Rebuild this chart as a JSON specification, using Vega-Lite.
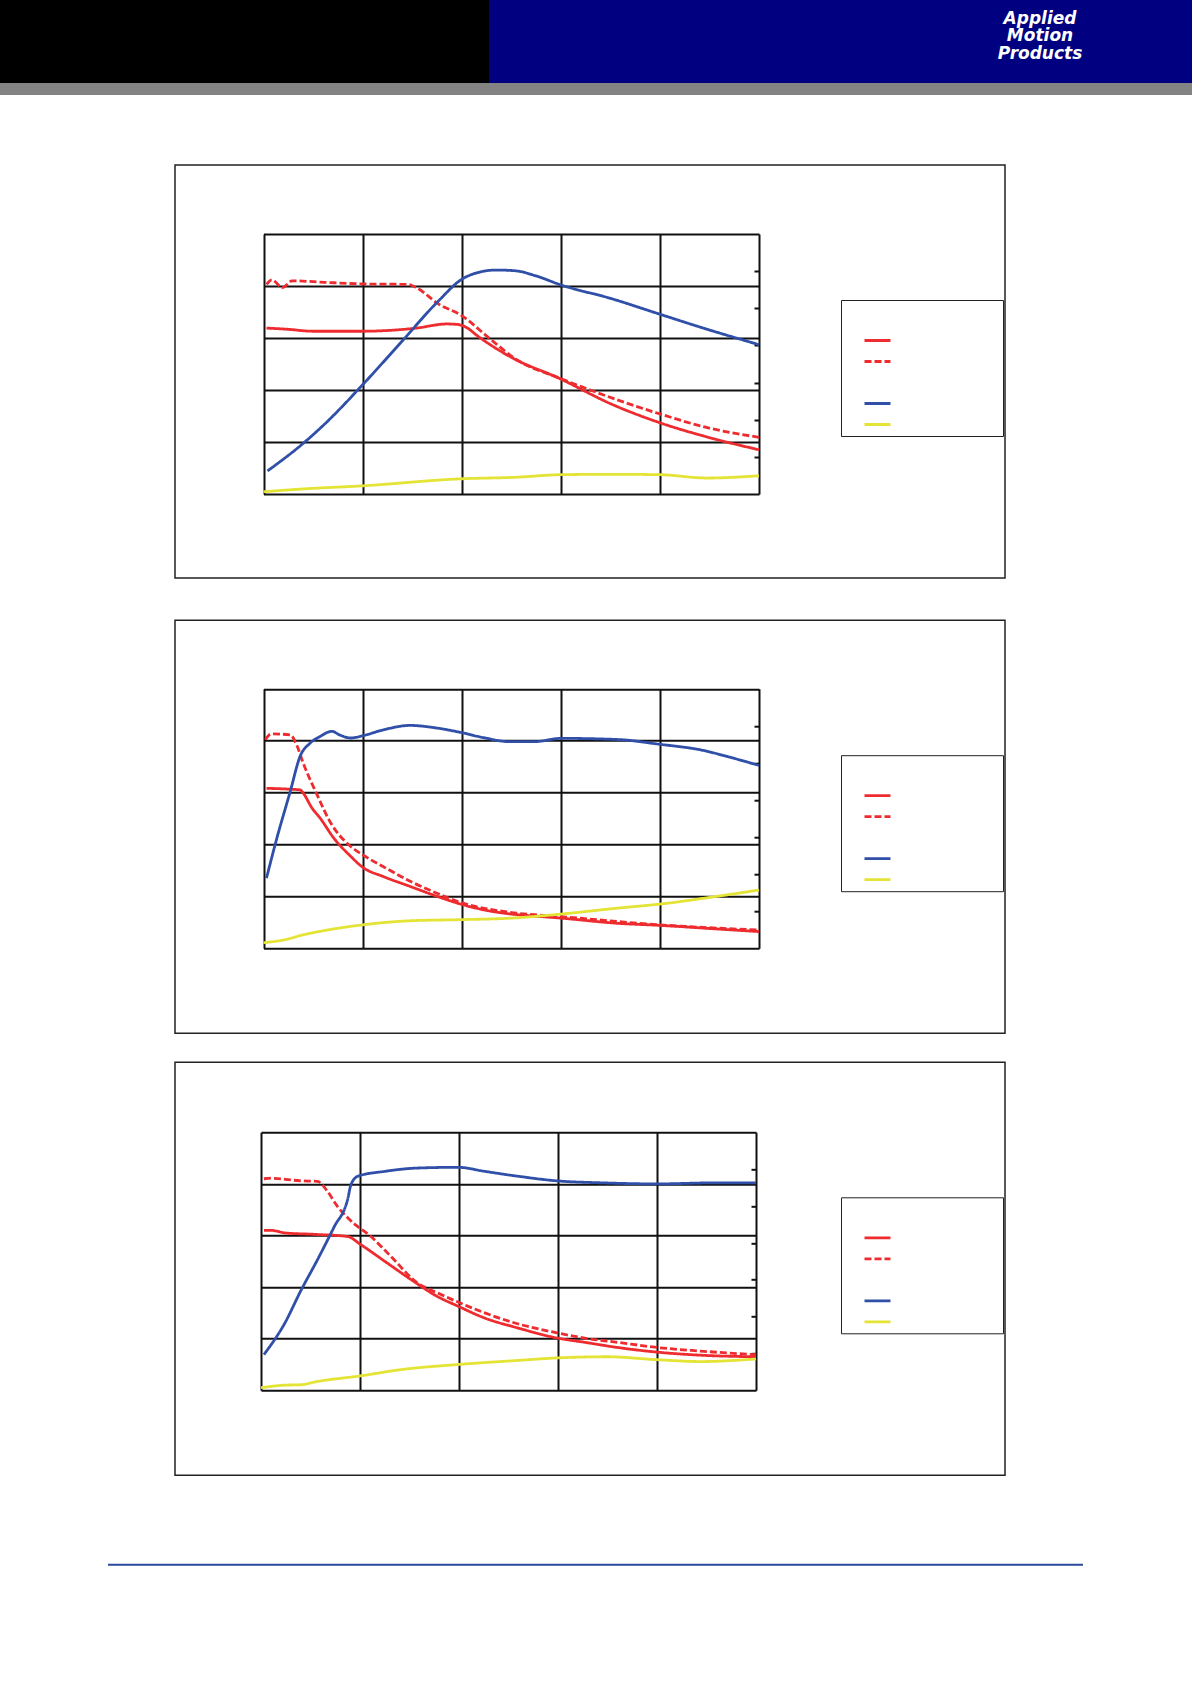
{
  "$schema": "https://vega.github.io/schema/vega-lite/v6.json",
  "padding": 0,
  "background": "white",
  "datasets": {
    "p1": [
      {"series": "Torque 24 VDC", "speed": 0.3, "value": 0.319}, {"series": "Torque 24 VDC", "speed": 2.3, "value": 0.317},
      {"series": "Torque 24 VDC", "speed": 5, "value": 0.313}, {"series": "Torque 24 VDC", "speed": 10, "value": 0.313},
      {"series": "Torque 24 VDC", "speed": 15.4, "value": 0.319}, {"series": "Torque 24 VDC", "speed": 18.5, "value": 0.327},
      {"series": "Torque 24 VDC", "speed": 19.6, "value": 0.326}, {"series": "Torque 24 VDC", "speed": 20.5, "value": 0.32},
      {"series": "Torque 24 VDC", "speed": 21.6, "value": 0.304}, {"series": "Torque 24 VDC", "speed": 24.7, "value": 0.266},
      {"series": "Torque 24 VDC", "speed": 30, "value": 0.221}, {"series": "Torque 24 VDC", "speed": 35.1, "value": 0.173},
      {"series": "Torque 24 VDC", "speed": 40, "value": 0.137}, {"series": "Torque 24 VDC", "speed": 44.7, "value": 0.11},
      {"series": "Torque 24 VDC", "speed": 50, "value": 0.085},
      {"series": "Torque 48 VDC", "speed": 0.3, "value": 0.403}, {"series": "Torque 48 VDC", "speed": 0.85, "value": 0.412},
      {"series": "Torque 48 VDC", "speed": 1.9, "value": 0.397}, {"series": "Torque 48 VDC", "speed": 2.9, "value": 0.41},
      {"series": "Torque 48 VDC", "speed": 6.2, "value": 0.407}, {"series": "Torque 48 VDC", "speed": 10, "value": 0.404},
      {"series": "Torque 48 VDC", "speed": 14.6, "value": 0.403}, {"series": "Torque 48 VDC", "speed": 15.4, "value": 0.397},
      {"series": "Torque 48 VDC", "speed": 17.7, "value": 0.365}, {"series": "Torque 48 VDC", "speed": 20, "value": 0.343},
      {"series": "Torque 48 VDC", "speed": 22.7, "value": 0.301}, {"series": "Torque 48 VDC", "speed": 25.4, "value": 0.26},
      {"series": "Torque 48 VDC", "speed": 30, "value": 0.222}, {"series": "Torque 48 VDC", "speed": 33.1, "value": 0.199},
      {"series": "Torque 48 VDC", "speed": 40, "value": 0.154}, {"series": "Torque 48 VDC", "speed": 44.7, "value": 0.128},
      {"series": "Torque 48 VDC", "speed": 50, "value": 0.109},
      {"series": "Power", "speed": 0.4, "value": 6.2}, {"series": "Power", "speed": 3.9, "value": 13.4},
      {"series": "Power", "speed": 6.2, "value": 18.9}, {"series": "Power", "speed": 10, "value": 29.4},
      {"series": "Power", "speed": 13.9, "value": 40.9}, {"series": "Power", "speed": 17.7, "value": 52.1},
      {"series": "Power", "speed": 20, "value": 57.8}, {"series": "Power", "speed": 21.6, "value": 59.6},
      {"series": "Power", "speed": 23.5, "value": 60.3}, {"series": "Power", "speed": 25.4, "value": 60.1},
      {"series": "Power", "speed": 27.4, "value": 58.8}, {"series": "Power", "speed": 30, "value": 56.3},
      {"series": "Power", "speed": 35.1, "value": 52.6}, {"series": "Power", "speed": 40, "value": 48.4},
      {"series": "Power", "speed": 44.7, "value": 44.4}, {"series": "Power", "speed": 50, "value": 40.2},
      {"series": "Current", "speed": 0, "value": 0.6}, {"series": "Current", "speed": 4.2, "value": 1.4},
      {"series": "Current", "speed": 10, "value": 2.2}, {"series": "Current", "speed": 20, "value": 4.1},
      {"series": "Current", "speed": 25.4, "value": 4.5}, {"series": "Current", "speed": 30, "value": 5.2},
      {"series": "Current", "speed": 35.1, "value": 5.3}, {"series": "Current", "speed": 40, "value": 5.2},
      {"series": "Current", "speed": 44.7, "value": 4.3}, {"series": "Current", "speed": 50, "value": 4.9}
    ],
    "p2": [
      {"series": "Torque 24 VDC", "speed": 0.3, "value": 0.308}, {"series": "Torque 24 VDC", "speed": 2, "value": 0.307},
      {"series": "Torque 24 VDC", "speed": 3.7, "value": 0.305}, {"series": "Torque 24 VDC", "speed": 4, "value": 0.299},
      {"series": "Torque 24 VDC", "speed": 4.9, "value": 0.27}, {"series": "Torque 24 VDC", "speed": 5.7, "value": 0.251},
      {"series": "Torque 24 VDC", "speed": 7.1, "value": 0.212}, {"series": "Torque 24 VDC", "speed": 8.8, "value": 0.177},
      {"series": "Torque 24 VDC", "speed": 10, "value": 0.156}, {"series": "Torque 24 VDC", "speed": 12.1, "value": 0.138},
      {"series": "Torque 24 VDC", "speed": 14.8, "value": 0.119}, {"series": "Torque 24 VDC", "speed": 17.5, "value": 0.1},
      {"series": "Torque 24 VDC", "speed": 19.9, "value": 0.085}, {"series": "Torque 24 VDC", "speed": 22.2, "value": 0.074},
      {"series": "Torque 24 VDC", "speed": 24.9, "value": 0.066}, {"series": "Torque 24 VDC", "speed": 27.3, "value": 0.062},
      {"series": "Torque 24 VDC", "speed": 30, "value": 0.058}, {"series": "Torque 24 VDC", "speed": 35.7, "value": 0.048},
      {"series": "Torque 24 VDC", "speed": 40, "value": 0.044}, {"series": "Torque 24 VDC", "speed": 45.8, "value": 0.037},
      {"series": "Torque 24 VDC", "speed": 50, "value": 0.032},
      {"series": "Torque 48 VDC", "speed": 0.2, "value": 0.402}, {"series": "Torque 48 VDC", "speed": 0.8, "value": 0.413},
      {"series": "Torque 48 VDC", "speed": 2.7, "value": 0.411}, {"series": "Torque 48 VDC", "speed": 3.4, "value": 0.389},
      {"series": "Torque 48 VDC", "speed": 4, "value": 0.357}, {"series": "Torque 48 VDC", "speed": 5.4, "value": 0.296},
      {"series": "Torque 48 VDC", "speed": 6.7, "value": 0.244}, {"series": "Torque 48 VDC", "speed": 8.8, "value": 0.196},
      {"series": "Torque 48 VDC", "speed": 10, "value": 0.18}, {"series": "Torque 48 VDC", "speed": 12.1, "value": 0.157},
      {"series": "Torque 48 VDC", "speed": 14.8, "value": 0.129}, {"series": "Torque 48 VDC", "speed": 17.5, "value": 0.106},
      {"series": "Torque 48 VDC", "speed": 19.9, "value": 0.088}, {"series": "Torque 48 VDC", "speed": 24.9, "value": 0.069},
      {"series": "Torque 48 VDC", "speed": 30, "value": 0.061}, {"series": "Torque 48 VDC", "speed": 40, "value": 0.045},
      {"series": "Torque 48 VDC", "speed": 50, "value": 0.035},
      {"series": "Power", "speed": 0.3, "value": 18.9}, {"series": "Power", "speed": 1.35, "value": 29.7},
      {"series": "Power", "speed": 2.7, "value": 42.3}, {"series": "Power", "speed": 3.7, "value": 51.8},
      {"series": "Power", "speed": 4.7, "value": 55.3}, {"series": "Power", "speed": 5.7, "value": 57.1},
      {"series": "Power", "speed": 6.9, "value": 58.5}, {"series": "Power", "speed": 7.7, "value": 57.5},
      {"series": "Power", "speed": 8.8, "value": 56.7}, {"series": "Power", "speed": 10, "value": 57.3},
      {"series": "Power", "speed": 12.1, "value": 58.9}, {"series": "Power", "speed": 14.8, "value": 60.1},
      {"series": "Power", "speed": 17.2, "value": 59.5}, {"series": "Power", "speed": 19.9, "value": 58.2},
      {"series": "Power", "speed": 22.2, "value": 56.8}, {"series": "Power", "speed": 24.9, "value": 55.7},
      {"series": "Power", "speed": 27.3, "value": 55.7}, {"series": "Power", "speed": 30, "value": 56.6},
      {"series": "Power", "speed": 35.7, "value": 56.3}, {"series": "Power", "speed": 40, "value": 55},
      {"series": "Power", "speed": 44.1, "value": 53.5}, {"series": "Power", "speed": 47.5, "value": 51.2},
      {"series": "Power", "speed": 50, "value": 49.3},
      {"series": "Current", "speed": 0, "value": 1.5}, {"series": "Current", "speed": 2, "value": 2.2},
      {"series": "Current", "speed": 4, "value": 3.6}, {"series": "Current", "speed": 7.1, "value": 5.2},
      {"series": "Current", "speed": 10, "value": 6.3}, {"series": "Current", "speed": 14.8, "value": 7.4},
      {"series": "Current", "speed": 19.9, "value": 7.7}, {"series": "Current", "speed": 24.9, "value": 8.1},
      {"series": "Current", "speed": 30, "value": 9.2}, {"series": "Current", "speed": 35.7, "value": 10.8},
      {"series": "Current", "speed": 40, "value": 11.9}, {"series": "Current", "speed": 45.8, "value": 14},
      {"series": "Current", "speed": 50, "value": 15.7}
    ],
    "p3": [
      {"series": "Torque 24 VDC", "speed": 0.3, "value": 0.31}, {"series": "Torque 24 VDC", "speed": 1, "value": 0.31},
      {"series": "Torque 24 VDC", "speed": 2.4, "value": 0.305}, {"series": "Torque 24 VDC", "speed": 5.7, "value": 0.302},
      {"series": "Torque 24 VDC", "speed": 8.75, "value": 0.298}, {"series": "Torque 24 VDC", "speed": 10.1, "value": 0.282},
      {"series": "Torque 24 VDC", "speed": 12.5, "value": 0.25}, {"series": "Torque 24 VDC", "speed": 15.2, "value": 0.214},
      {"series": "Torque 24 VDC", "speed": 17.8, "value": 0.182}, {"series": "Torque 24 VDC", "speed": 19.9, "value": 0.163},
      {"series": "Torque 24 VDC", "speed": 22.6, "value": 0.14}, {"series": "Torque 24 VDC", "speed": 25.9, "value": 0.121},
      {"series": "Torque 24 VDC", "speed": 30, "value": 0.101}, {"series": "Torque 24 VDC", "speed": 32.7, "value": 0.093},
      {"series": "Torque 24 VDC", "speed": 36, "value": 0.083}, {"series": "Torque 24 VDC", "speed": 40, "value": 0.074},
      {"series": "Torque 24 VDC", "speed": 44.4, "value": 0.068}, {"series": "Torque 24 VDC", "speed": 50, "value": 0.065},
      {"series": "Torque 48 VDC", "speed": 0.3, "value": 0.41}, {"series": "Torque 48 VDC", "speed": 1, "value": 0.411},
      {"series": "Torque 48 VDC", "speed": 4, "value": 0.406}, {"series": "Torque 48 VDC", "speed": 5.7, "value": 0.405},
      {"series": "Torque 48 VDC", "speed": 6.7, "value": 0.386}, {"series": "Torque 48 VDC", "speed": 7.7, "value": 0.357},
      {"series": "Torque 48 VDC", "speed": 9.1, "value": 0.328}, {"series": "Torque 48 VDC", "speed": 11.1, "value": 0.298},
      {"series": "Torque 48 VDC", "speed": 13.1, "value": 0.26}, {"series": "Torque 48 VDC", "speed": 15.8, "value": 0.208},
      {"series": "Torque 48 VDC", "speed": 17.8, "value": 0.189}, {"series": "Torque 48 VDC", "speed": 19.9, "value": 0.171},
      {"series": "Torque 48 VDC", "speed": 22.6, "value": 0.15}, {"series": "Torque 48 VDC", "speed": 25.9, "value": 0.129},
      {"series": "Torque 48 VDC", "speed": 30, "value": 0.111}, {"series": "Torque 48 VDC", "speed": 32.7, "value": 0.101},
      {"series": "Torque 48 VDC", "speed": 36, "value": 0.093}, {"series": "Torque 48 VDC", "speed": 40, "value": 0.083},
      {"series": "Torque 48 VDC", "speed": 44.4, "value": 0.076}, {"series": "Torque 48 VDC", "speed": 50, "value": 0.069},
      {"series": "Power", "speed": 0.3, "value": 9.7}, {"series": "Power", "speed": 2.4, "value": 18.2},
      {"series": "Power", "speed": 4, "value": 26.9}, {"series": "Power", "speed": 5.7, "value": 35.4},
      {"series": "Power", "speed": 7.4, "value": 44.4}, {"series": "Power", "speed": 8.75, "value": 51.8},
      {"series": "Power", "speed": 9.1, "value": 55.9}, {"series": "Power", "speed": 9.8, "value": 58.1},
      {"series": "Power", "speed": 12.5, "value": 59.4}, {"series": "Power", "speed": 15.8, "value": 60.3},
      {"series": "Power", "speed": 19.9, "value": 60.5}, {"series": "Power", "speed": 22.6, "value": 59.4},
      {"series": "Power", "speed": 25.9, "value": 58.1}, {"series": "Power", "speed": 30, "value": 56.8},
      {"series": "Power", "speed": 34.3, "value": 56.3}, {"series": "Power", "speed": 40, "value": 56},
      {"series": "Power", "speed": 46.1, "value": 56.3}, {"series": "Power", "speed": 50, "value": 56.3},
      {"series": "Current", "speed": 0, "value": 0.7}, {"series": "Current", "speed": 2.4, "value": 1.4},
      {"series": "Current", "speed": 4, "value": 1.5}, {"series": "Current", "speed": 5.7, "value": 2.4},
      {"series": "Current", "speed": 10, "value": 3.9}, {"series": "Current", "speed": 14.1, "value": 5.6},
      {"series": "Current", "speed": 19.9, "value": 7}, {"series": "Current", "speed": 25.9, "value": 8.1},
      {"series": "Current", "speed": 30, "value": 8.8}, {"series": "Current", "speed": 35, "value": 9.1},
      {"series": "Current", "speed": 40, "value": 8.3}, {"series": "Current", "speed": 44.4, "value": 7.8},
      {"series": "Current", "speed": 50, "value": 8.5}
    ]
  },
  "vconcat": [
    {
      "vconcat": [
        {
          "vconcat": [
            {
              "vconcat": [
                {
                  "vconcat": [
                    {
                      "hconcat": [
                        {"width": 489, "height": 83, "data": {"values": []}, "mark": "point", "view": {"fill": "#000000", "stroke": null}},
                        {"width": 501, "height": 83, "data": {"values": []}, "mark": "point", "view": {"fill": "#000080", "stroke": null}},
                        {
                          "width": 100, "height": 83,
                          "data": {"values": [{"brand": "Applied Motion Products"}]},
                          "mark": {"type": "text", "color": "white", "font": "DejaVu Sans", "fontSize": 17, "fontWeight": "bold", "fontStyle": "italic", "align": "center", "baseline": "middle", "lineHeight": 17.7, "dy": -23},
                          "encoding": {"text": {"value": ["Applied", "Motion", "Products"]}},
                          "view": {"fill": "#000080", "stroke": null}
                        },
                        {"width": 102, "height": 83, "data": {"values": []}, "mark": "point", "view": {"fill": "#000080", "stroke": null}}
                      ],
                      "spacing": 0
                    },
                    {"width": 1192, "height": 12, "data": {"values": []}, "mark": "point", "view": {"fill": "#838383", "stroke": null}}
                  ],
                  "spacing": 0
                },
                {
                  "hconcat": [
                    {"width": 174, "height": 1, "data": {"values": []}, "mark": "point"},
                    {
                      "width": 830, "height": 413,
                      "view": {"stroke": "#222222", "strokeWidth": 1.5, "fill": "white"},
                      "data": {"name": "p1"},
                      "layer": [
                        {
                          "transform": [{"filter": {"field": "series", "oneOf": ["Torque 24 VDC", "Torque 48 VDC"]}}],
                          "mark": "line",
                          "encoding": {
                            "x": {"field": "speed", "type": "quantitative", "scale": {"domain": [0, 50], "range": [88.5, 584], "nice": false}, "axis": {"orient": "top", "grid": true, "values": [0, 10, 20, 30, 40, 50], "title": null}},
                            "y": {"field": "value", "type": "quantitative", "scale": {"domain": [0, 0.5], "range": [329, 69], "nice": false}, "axis": {"grid": true, "values": [0, 0.1, 0.2, 0.3, 0.4, 0.5], "title": null}},
                            "color": {"field": "series", "type": "nominal", "scale": {"domain": [" ", "Torque 24 VDC", "Torque 48 VDC", "  ", "Power", "Current"], "range": ["white", "#ee2b2f", "#ee2b2f", "white", "#2f4fa8", "#e4e436"]}, "legend": {"title": null, "orient": "none", "legendX": 666, "legendY": 135, "labelExpr": "''", "encode": {"symbols": {"update": {"strokeDash": {"signal": "datum.value === 'Torque 48 VDC' ? [4, 1.6] : [1, 0]"}}}}}},
                            "strokeDash": {"field": "series", "type": "nominal", "scale": {"domain": [" ", "Torque 24 VDC", "Torque 48 VDC", "  ", "Power", "Current"], "range": [[1, 0], [1, 0], [7, 3], [1, 0], [1, 0], [1, 0]]}, "legend": {"title": null, "orient": "none", "legendX": 666, "legendY": 135, "labelExpr": "''", "encode": {"symbols": {"update": {"strokeDash": {"signal": "datum.value === 'Torque 48 VDC' ? [4, 1.6] : [1, 0]"}}}}}}
                          }
                        },
                        {
                          "transform": [{"filter": {"field": "series", "oneOf": ["Power", "Current"]}}],
                          "mark": "line",
                          "encoding": {
                            "x": {"field": "speed", "type": "quantitative", "scale": {"domain": [0, 50], "range": [88.5, 584], "nice": false}, "axis": {"orient": "top", "grid": true, "values": [0, 10, 20, 30, 40, 50], "title": null}},
                            "y": {"field": "value", "type": "quantitative", "scale": {"domain": [0, 70], "range": [329, 69], "nice": false}, "axis": {"orient": "left", "offset": -584, "ticks": true, "values": [10, 20, 30, 40, 50, 60], "title": null}},
                            "color": {"field": "series", "type": "nominal", "scale": {"domain": [" ", "Torque 24 VDC", "Torque 48 VDC", "  ", "Power", "Current"], "range": ["white", "#ee2b2f", "#ee2b2f", "white", "#2f4fa8", "#e4e436"]}, "legend": {"title": null, "orient": "none", "legendX": 666, "legendY": 135, "labelExpr": "''", "encode": {"symbols": {"update": {"strokeDash": {"signal": "datum.value === 'Torque 48 VDC' ? [4, 1.6] : [1, 0]"}}}}}},
                            "strokeDash": {"field": "series", "type": "nominal", "scale": {"domain": [" ", "Torque 24 VDC", "Torque 48 VDC", "  ", "Power", "Current"], "range": [[1, 0], [1, 0], [7, 3], [1, 0], [1, 0], [1, 0]]}, "legend": {"title": null, "orient": "none", "legendX": 666, "legendY": 135, "labelExpr": "''", "encode": {"symbols": {"update": {"strokeDash": {"signal": "datum.value === 'Torque 48 VDC' ? [4, 1.6] : [1, 0]"}}}}}}
                          }
                        }
                      ],
                      "resolve": {"scale": {"y": "independent"}}
                    }
                  ],
                  "spacing": 0,
                  "resolve": {"scale": {"color": "independent", "strokeDash": "independent"}}
                }
              ],
              "spacing": 69,
              "resolve": {"scale": {"color": "independent", "strokeDash": "independent"}}
            },
            {
              "hconcat": [
                {"width": 174, "height": 1, "data": {"values": []}, "mark": "point"},
                {
                  "width": 830, "height": 413,
                  "view": {"stroke": "#222222", "strokeWidth": 1.5, "fill": "white"},
                  "data": {"name": "p2"},
                  "layer": [
                    {
                      "transform": [{"filter": {"field": "series", "oneOf": ["Torque 24 VDC", "Torque 48 VDC"]}}],
                      "mark": "line",
                      "encoding": {
                        "x": {"field": "speed", "type": "quantitative", "scale": {"domain": [0, 50], "range": [88.5, 584], "nice": false}, "axis": {"orient": "top", "grid": true, "values": [0, 10, 20, 30, 40, 50], "title": null}},
                        "y": {"field": "value", "type": "quantitative", "scale": {"domain": [0, 0.5], "range": [328, 68.5], "nice": false}, "axis": {"grid": true, "values": [0, 0.1, 0.2, 0.3, 0.4, 0.5], "title": null}},
                        "color": {"field": "series", "type": "nominal", "scale": {"domain": [" ", "Torque 24 VDC", "Torque 48 VDC", "  ", "Power", "Current"], "range": ["white", "#ee2b2f", "#ee2b2f", "white", "#2f4fa8", "#e4e436"]}, "legend": {"title": null, "orient": "none", "legendX": 666, "legendY": 135, "labelExpr": "''", "encode": {"symbols": {"update": {"strokeDash": {"signal": "datum.value === 'Torque 48 VDC' ? [4, 1.6] : [1, 0]"}}}}}},
                        "strokeDash": {"field": "series", "type": "nominal", "scale": {"domain": [" ", "Torque 24 VDC", "Torque 48 VDC", "  ", "Power", "Current"], "range": [[1, 0], [1, 0], [7, 3], [1, 0], [1, 0], [1, 0]]}, "legend": {"title": null, "orient": "none", "legendX": 666, "legendY": 135, "labelExpr": "''", "encode": {"symbols": {"update": {"strokeDash": {"signal": "datum.value === 'Torque 48 VDC' ? [4, 1.6] : [1, 0]"}}}}}}
                      }
                    },
                    {
                      "transform": [{"filter": {"field": "series", "oneOf": ["Power", "Current"]}}],
                      "mark": "line",
                      "encoding": {
                        "x": {"field": "speed", "type": "quantitative", "scale": {"domain": [0, 50], "range": [88.5, 584], "nice": false}, "axis": {"orient": "top", "grid": true, "values": [0, 10, 20, 30, 40, 50], "title": null}},
                        "y": {"field": "value", "type": "quantitative", "scale": {"domain": [0, 70], "range": [328, 68.5], "nice": false}, "axis": {"orient": "left", "offset": -584, "ticks": true, "values": [10, 20, 30, 40, 50, 60], "title": null}},
                        "color": {"field": "series", "type": "nominal", "scale": {"domain": [" ", "Torque 24 VDC", "Torque 48 VDC", "  ", "Power", "Current"], "range": ["white", "#ee2b2f", "#ee2b2f", "white", "#2f4fa8", "#e4e436"]}, "legend": {"title": null, "orient": "none", "legendX": 666, "legendY": 135, "labelExpr": "''", "encode": {"symbols": {"update": {"strokeDash": {"signal": "datum.value === 'Torque 48 VDC' ? [4, 1.6] : [1, 0]"}}}}}},
                        "strokeDash": {"field": "series", "type": "nominal", "scale": {"domain": [" ", "Torque 24 VDC", "Torque 48 VDC", "  ", "Power", "Current"], "range": [[1, 0], [1, 0], [7, 3], [1, 0], [1, 0], [1, 0]]}, "legend": {"title": null, "orient": "none", "legendX": 666, "legendY": 135, "labelExpr": "''", "encode": {"symbols": {"update": {"strokeDash": {"signal": "datum.value === 'Torque 48 VDC' ? [4, 1.6] : [1, 0]"}}}}}}
                      }
                    }
                  ],
                  "resolve": {"scale": {"y": "independent"}}
                }
              ],
              "spacing": 0,
              "resolve": {"scale": {"color": "independent", "strokeDash": "independent"}}
            }
          ],
          "spacing": 40.2,
          "resolve": {"scale": {"color": "independent", "strokeDash": "independent"}}
        },
        {
          "hconcat": [
            {"width": 174, "height": 1, "data": {"values": []}, "mark": "point"},
            {
              "width": 830, "height": 413,
              "view": {"stroke": "#222222", "strokeWidth": 1.5, "fill": "white"},
              "data": {"name": "p3"},
              "layer": [
                {
                  "transform": [{"filter": {"field": "series", "oneOf": ["Torque 24 VDC", "Torque 48 VDC"]}}],
                  "mark": "line",
                  "encoding": {
                    "x": {"field": "speed", "type": "quantitative", "scale": {"domain": [0, 50], "range": [86, 581], "nice": false}, "axis": {"orient": "top", "grid": true, "values": [0, 10, 20, 30, 40, 50], "title": null}},
                    "y": {"field": "value", "type": "quantitative", "scale": {"domain": [0, 0.5], "range": [328, 70], "nice": false}, "axis": {"grid": true, "values": [0, 0.1, 0.2, 0.3, 0.4, 0.5], "title": null}},
                    "color": {"field": "series", "type": "nominal", "scale": {"domain": [" ", "Torque 24 VDC", "Torque 48 VDC", "  ", "Power", "Current"], "range": ["white", "#ee2b2f", "#ee2b2f", "white", "#2f4fa8", "#e4e436"]}, "legend": {"title": null, "orient": "none", "legendX": 666, "legendY": 135, "labelExpr": "''", "encode": {"symbols": {"update": {"strokeDash": {"signal": "datum.value === 'Torque 48 VDC' ? [4, 1.6] : [1, 0]"}}}}}},
                    "strokeDash": {"field": "series", "type": "nominal", "scale": {"domain": [" ", "Torque 24 VDC", "Torque 48 VDC", "  ", "Power", "Current"], "range": [[1, 0], [1, 0], [7, 3], [1, 0], [1, 0], [1, 0]]}, "legend": {"title": null, "orient": "none", "legendX": 666, "legendY": 135, "labelExpr": "''", "encode": {"symbols": {"update": {"strokeDash": {"signal": "datum.value === 'Torque 48 VDC' ? [4, 1.6] : [1, 0]"}}}}}}
                  }
                },
                {
                  "transform": [{"filter": {"field": "series", "oneOf": ["Power", "Current"]}}],
                  "mark": "line",
                  "encoding": {
                    "x": {"field": "speed", "type": "quantitative", "scale": {"domain": [0, 50], "range": [86, 581], "nice": false}, "axis": {"orient": "top", "grid": true, "values": [0, 10, 20, 30, 40, 50], "title": null}},
                    "y": {"field": "value", "type": "quantitative", "scale": {"domain": [0, 70], "range": [328, 70], "nice": false}, "axis": {"orient": "left", "offset": -581, "ticks": true, "values": [10, 20, 30, 40, 50, 60], "title": null}},
                    "color": {"field": "series", "type": "nominal", "scale": {"domain": [" ", "Torque 24 VDC", "Torque 48 VDC", "  ", "Power", "Current"], "range": ["white", "#ee2b2f", "#ee2b2f", "white", "#2f4fa8", "#e4e436"]}, "legend": {"title": null, "orient": "none", "legendX": 666, "legendY": 135, "labelExpr": "''", "encode": {"symbols": {"update": {"strokeDash": {"signal": "datum.value === 'Torque 48 VDC' ? [4, 1.6] : [1, 0]"}}}}}},
                    "strokeDash": {"field": "series", "type": "nominal", "scale": {"domain": [" ", "Torque 24 VDC", "Torque 48 VDC", "  ", "Power", "Current"], "range": [[1, 0], [1, 0], [7, 3], [1, 0], [1, 0], [1, 0]]}, "legend": {"title": null, "orient": "none", "legendX": 666, "legendY": 135, "labelExpr": "''", "encode": {"symbols": {"update": {"strokeDash": {"signal": "datum.value === 'Torque 48 VDC' ? [4, 1.6] : [1, 0]"}}}}}}
                  }
                }
              ],
              "resolve": {"scale": {"y": "independent"}}
            }
          ],
          "spacing": 0,
          "resolve": {"scale": {"color": "independent", "strokeDash": "independent"}}
        }
      ],
      "spacing": 27.3,
      "resolve": {"scale": {"color": "independent", "strokeDash": "independent"}}
    },
    {
      "hconcat": [
        {"width": 108, "height": 2, "data": {"values": []}, "mark": "point"},
        {"width": 975, "height": 2, "data": {"values": []}, "mark": "point", "view": {"fill": "#2a4b9b", "stroke": null}}
      ],
      "spacing": 0
    }
  ],
  "spacing": 86.8,
  "resolve": {"scale": {"color": "independent", "strokeDash": "independent"}},
  "config": {
    "view": {"stroke": null},
    "axis": {"domain": false, "labels": false, "ticks": false, "grid": false, "gridColor": "#111111", "gridWidth": 2, "gridOpacity": 1, "tickColor": "#111111", "tickWidth": 2, "tickSize": 5},
    "line": {"strokeWidth": 2.8, "interpolate": "monotone"},
    "legend": {"symbolType": "stroke", "symbolSize": 676, "symbolStrokeWidth": 3, "symbolOffset": 17, "labelFontSize": 10, "labelOffset": 106, "padding": 5, "rowPadding": 0, "strokeColor": "#222222", "fillColor": "white"}
  }
}
